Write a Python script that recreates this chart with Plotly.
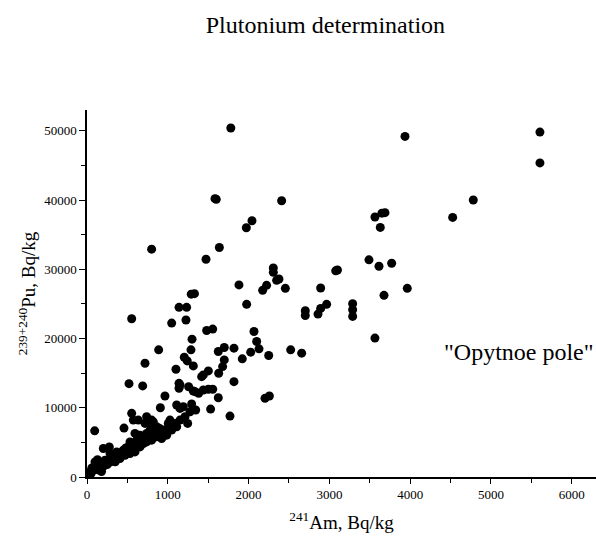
import plotly.graph_objects as go

am241 = [1780, 1584, 1600, 2409, 2042, 1972, 1638, 800, 1473, 2306, 2306, 2376, 2347, 2455, 1881,
         2223, 2174, 1290, 1330, 2892, 3078, 3100, 3564, 3630, 3688, 3650, 3490, 3614, 3771, 3964,
         3676, 3936, 5606, 5606, 4781, 4526, 3564, 3288, 3288, 3288, 1976, 1139, 1233, 553, 1048,
         1225, 2702, 2702, 2859, 2892, 2966, 1481, 1556, 1300, 2067, 2100, 2129, 2026, 2249, 2521,
         2657, 1819, 1699, 1625, 1699, 1679, 1922, 1630, 1502, 1419, 1440, 1819, 2203, 2257, 887,
         1287, 1204, 1241, 1316, 718, 1101, 1139, 1139, 1258, 1316, 1382, 1440, 1556, 1502, 1151,
         520, 689, 965, 908, 1110, 1151, 1192, 1295, 1345, 1530, 1770, 1246, 458, 95, 553,
         573, 635, 718, 780, 821, 862, 924, 965, 1006, 1027, 780, 738, 656, 594, 615,
         532, 511, 449, 367, 285, 202, 276, 325, 285, 223, 161, 99, 120, 78, 37,
         10, 408, 470, 532, 594, 656, 697, 738, 800, 862, 924, 986, 1048, 1089, 1151,
         1213, 1275, 1110, 738, 800, 1625, 1337, 1048,
         50, 150, 200, 250, 350, 400, 300, 180, 60, 130, 480, 560, 620, 700, 760, 840, 900, 1000]

pu239 = [50400, 40200, 40100, 39900, 37000, 36000, 33150, 32900, 31450, 30200, 29560, 28600, 28400, 27250, 27740,
         27680, 26960, 26400, 26480, 27300, 29770, 29900, 37540, 36040, 38170, 38100, 31360, 30430, 30870, 27250,
         26230, 49190, 49810, 45360, 40000, 37490, 20060, 25030, 24160, 23190, 24930, 24500, 24500, 22860, 22230,
         22670, 24010, 23330, 23530, 24350, 24930, 21160, 21360, 19910, 21020, 19570, 18510, 18030, 17540, 18360,
         17880, 18610, 18700, 18120, 16910, 15940, 17060, 14990, 15320, 14490, 14740, 13770, 11360, 11700, 18360,
         18360, 17300, 16770, 16040, 16430, 15560, 13530, 12810, 13040, 12420, 12090, 12570, 12670, 12670, 13290,
         13480, 13150, 11700, 10000, 10390, 9910, 10140, 10540, 9670, 9810, 8800, 7740, 7060, 6670, 9190,
         8220, 8220, 7740, 7740, 7970, 7250, 6290, 6770, 7740, 8220, 6770, 6290, 6040, 6290, 5320,
         5070, 4350, 3870, 3620, 3390, 4120, 4350, 2670, 2170, 2420, 1940, 2170, 1450, 970, 725,
         250, 2670, 3140, 3390, 3620, 4350, 4840, 5070, 5320, 5800, 5560, 6040, 6770, 7740, 8220,
         8700, 9420, 7250, 8700, 8220, 11450, 12320, 7010,
         500, 1000, 1500, 1800, 2200, 3200, 3000, 800, 1300, 2500, 4200, 4600, 4900, 5800, 6000, 6400, 7000, 6600]

x_ticks = [0, 1000, 2000, 3000, 4000, 5000, 6000]
y_ticks = [0, 10000, 20000, 30000, 40000, 50000]

serif = "Liberation Serif"

fig = go.Figure()
fig.add_trace(go.Scatter(
    x=am241, y=pu239, mode="markers",
    marker=dict(color="black", size=9, line=dict(width=0)),
    showlegend=False, hoverinfo="skip"))

fig.add_annotation(x=5350, y=18070, xref="x", yref="y", text='"Opytnoe pole"',
                   showarrow=False, font=dict(family=serif, size=24, color="black"))

fig.update_layout(
    width=596, height=539,
    margin=dict(l=87, r=0, t=110, b=62),
    paper_bgcolor="white", plot_bgcolor="white",
    title=dict(text="Plutonium determination", x=0.546, xanchor="center", y=0.955, yanchor="middle",
               font=dict(family=serif, size=24, color="black")),
    font=dict(family=serif, color="black"),
)
fig.update_xaxes(
    range=[0, 6300], tickvals=x_ticks, ticktext=[str(v) for v in x_ticks],
    showgrid=False, zeroline=False, showline=True, linecolor="black", linewidth=1.5,
    ticks="outside", ticklen=5, tickwidth=1.2, tickcolor="black",
    minor=dict(dtick=500, tick0=0, ticks="outside", ticklen=4, tickwidth=1, tickcolor="black", showgrid=False),
    tickfont=dict(family=serif, size=13, color="black"),
    title=dict(text="<sup>241</sup>Am, Bq/kg", font=dict(family=serif, size=19, color="black"), standoff=14),
)
fig.update_yaxes(
    range=[0, 53000], tickvals=y_ticks, ticktext=[str(v) for v in y_ticks],
    showgrid=False, zeroline=False, showline=True, linecolor="black", linewidth=1.5,
    ticks="outside", ticklen=6, tickwidth=1.2, tickcolor="black",
    minor=dict(dtick=5000, tick0=0, ticks="outside", ticklen=4, tickwidth=1, tickcolor="black", showgrid=False),
    tickfont=dict(family=serif, size=13, color="black"),
    title=dict(text="<sup>239+240</sup>Pu, Bq/kg", font=dict(family=serif, size=19, color="black"), standoff=4),
)

fig.write_html("out.html")
